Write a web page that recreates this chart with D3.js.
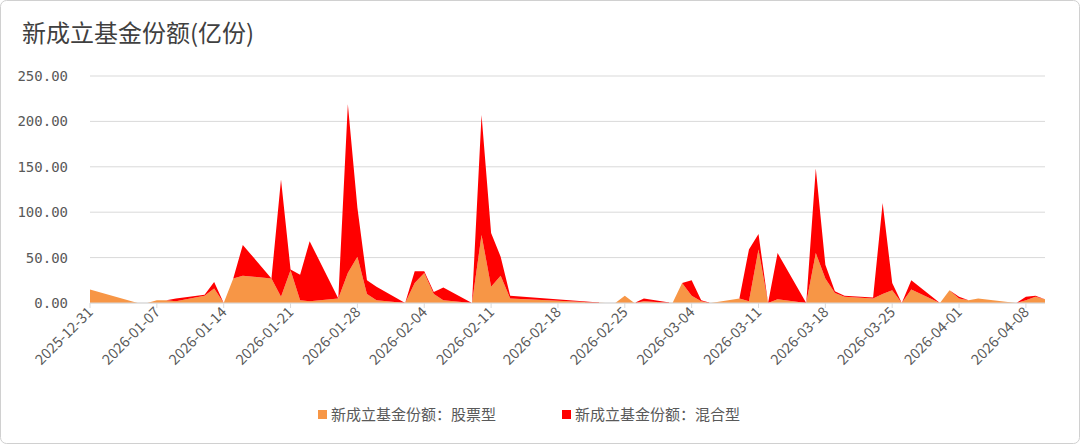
<!DOCTYPE html>
<html>
<head>
<meta charset="utf-8">
<script src="https://cdn.jsdelivr.net/npm/d3@7"></script>
<style>
  body { margin: 0; background: #fff; font-family: "Noto Sans CJK SC", "Noto Sans", sans-serif; }
</style>
</head>
<body>
<svg id="chart" width="1080" height="444"></svg>
<script>
// dates with data (trading days)
const dates = ['2025-12-31','2026-01-05','2026-01-06','2026-01-07','2026-01-08','2026-01-09',
  '2026-01-12','2026-01-13','2026-01-14','2026-01-15','2026-01-16',
  '2026-01-19','2026-01-20','2026-01-21','2026-01-22','2026-01-23',
  '2026-01-26','2026-01-27','2026-01-28','2026-01-29','2026-01-30',
  '2026-02-02','2026-02-03','2026-02-04','2026-02-05','2026-02-06',
  '2026-02-09','2026-02-10','2026-02-11','2026-02-12','2026-02-13',
  '2026-02-23','2026-02-24','2026-02-25','2026-02-26','2026-02-27',
  '2026-03-02','2026-03-03','2026-03-04','2026-03-05','2026-03-06',
  '2026-03-09','2026-03-10','2026-03-11','2026-03-12','2026-03-13',
  '2026-03-16','2026-03-17','2026-03-18','2026-03-19','2026-03-20',
  '2026-03-23','2026-03-24','2026-03-25','2026-03-26','2026-03-27',
  '2026-03-30','2026-03-31','2026-04-01','2026-04-02','2026-04-03',
  '2026-04-07','2026-04-08','2026-04-09','2026-04-10'];
// 股票型
const stock = [15,0,0,3,3,2,
  8,16,0,27,30,
  27,7,36,3,2,
  5,33,51,10,3,
  0,22,33,10,3,
  0,75,18,30,5,
  0,0,8,0,2,
  0,22,8,2,0,
  5,2,59,0,4,
  0,55,27,11,7,
  5,10,14,0,15,
  0,14,5,3,5,
  0,3,7,4];
// 混合型 (stacked on top)
const hybrid = [0,0,0,0,0,3,
  1,7,0,0,34,
  0,129,1,28,66,
  0,186,54,15,15,
  0,13,2,2,14,
  0,132,59,21,3,
  0,0,0,0,3,
  0,0,17,1,0,
  0,57,17,0,51,
  0,93,15,2,1,
  1,100,8,0,10,
  0,0,2,0,0,
  0,4,1,0];
const yTicks = [0, 50, 100, 150, 200, 250];
const seriesNames = ['新成立基金份额：股票型', '新成立基金份额：混合型'];
const colors = ['#F79646', '#FF0000'];

const svg = d3.select('#chart');
const W = 1080, H = 444;
const m = { left: 90, right: 35, top: 76, bottom: 141 };

svg.append('rect')
  .attr('x', 0.5).attr('y', 0.5).attr('width', W - 1).attr('height', H - 1)
  .attr('rx', 6).attr('fill', '#fff').attr('stroke', '#d0d0d0');

svg.append('text')
  .attr('x', 22).attr('y', 42)
  .attr('font-size', 24).attr('fill', '#404040')
  .text('新成立基金份额(亿份)');

const parse = d3.timeParse('%Y-%m-%d');
const rows = dates.map((d, i) => ({ date: parse(d), stock: stock[i], hybrid: hybrid[i] }));

const x = d3.scaleTime()
  .domain([parse('2025-12-31'), parse('2026-04-10')])
  .range([m.left, W - m.right]);
const y = d3.scaleLinear().domain([0, 250]).range([H - m.bottom, m.top]);

// grid
svg.append('g').selectAll('line').data(yTicks).join('line')
  .attr('x1', m.left).attr('x2', W - m.right)
  .attr('y1', d => y(d)).attr('y2', d => y(d))
  .attr('stroke', '#d9d9d9').attr('stroke-width', 1);

svg.append('g').selectAll('text').data(yTicks).join('text')
  .attr('x', 68).attr('y', d => y(d) + 5)
  .attr('text-anchor', 'end').attr('font-size', 14).attr('fill', '#595959')
  .attr('font-family', 'DejaVu Sans Mono, monospace')
  .text(d => d3.format('.2f')(d));

const stacked = d3.stack().keys(['stock', 'hybrid'])(rows);
const area = d3.area()
  .x(d => x(d.data.date))
  .y0(d => y(d[0]))
  .y1(d => y(d[1]));

svg.append('g').selectAll('path').data(stacked).join('path')
  .attr('d', area)
  .attr('fill', (d, i) => colors[i]);

// x axis, weekly ticks
const tickDates = d3.range(0, 15).map(i => d3.timeDay.offset(parse('2025-12-31'), i * 7));
const xa = svg.append('g').attr('transform', `translate(0,${H - m.bottom})`);
xa.append('line').attr('x1', m.left).attr('x2', W - m.right)
  .attr('stroke', '#d9d9d9');
xa.selectAll('line.t').data(tickDates).join('line').attr('class', 't')
  .attr('x1', d => x(d)).attr('x2', d => x(d)).attr('y1', 0).attr('y2', 5)
  .attr('stroke', '#d9d9d9');
xa.selectAll('text').data(tickDates).join('text')
  .attr('transform', d => `translate(${x(d) + 4},${10}) rotate(-45)`)
  .attr('text-anchor', 'end').attr('font-size', 14.5).attr('fill', '#595959')
  .text(d => d3.timeFormat('%Y-%m-%d')(d));

// legend
const lg = svg.append('g').attr('transform', 'translate(318,420)');
seriesNames.forEach((n, i) => {
  const g = lg.append('g').attr('transform', `translate(${i * 244},0)`);
  g.append('rect').attr('x', 0).attr('y', -10).attr('width', 9).attr('height', 9).attr('fill', colors[i]);
  g.append('text').attr('x', 13).attr('y', 0).attr('font-size', 15).attr('fill', '#595959').text(n);
});
</script>
</body>
</html>
